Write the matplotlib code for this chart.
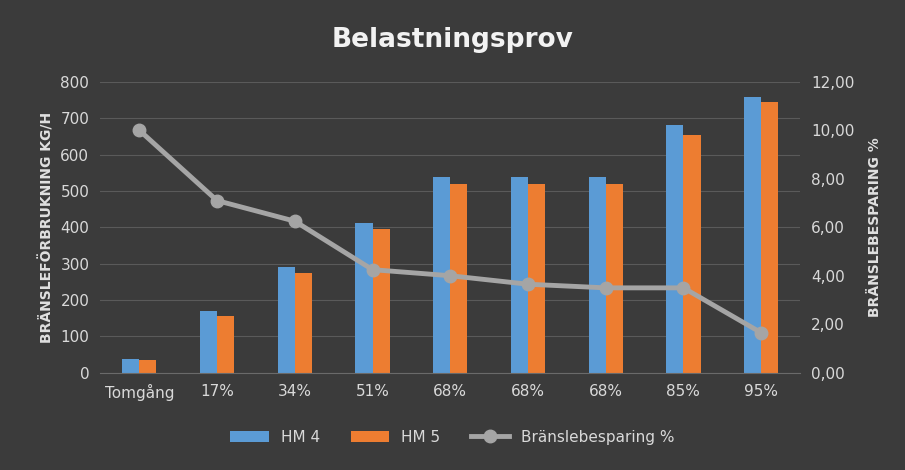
import matplotlib
matplotlib.use("Agg")
import matplotlib.pyplot as plt
import numpy as np

categories = ["Tomgång", "17%", "34%", "51%", "68%", "68%", "68%", "85%", "95%"]
hm4 = [38, 170, 290, 413, 537, 537, 537, 680, 757]
hm5 = [35, 157, 273, 395, 518, 518, 518, 655, 745]
besparing = [10.0, 7.1, 6.25, 4.25, 4.0, 3.65, 3.5, 3.5, 1.65]

fig = plt.figure(figsize=(9.05, 4.70), dpi=100)
fig.patch.set_facecolor("#3b3b3b")
ax = fig.add_axes([0.111, 0.207, 0.773, 0.619])
ax.set_facecolor("#3b3b3b")
x = np.arange(len(categories))
w = 0.22
ax.bar(x - w/2, hm4, w, color="#5b9bd5", label="HM 4", zorder=2)
ax.bar(x + w/2, hm5, w, color="#ed7d31", label="HM 5", zorder=2)
ax.set_ylim(0, 800)
ax.set_yticks(range(0, 801, 100))
ax.set_xlim(-0.5, len(categories) - 0.5)
ax.set_xticks(x)
ax.set_xticklabels(categories)
ax.grid(axis="y", color="#5a5a5a", linewidth=0.8, zorder=0)
for s in ax.spines.values():
    s.set_visible(False)
ax.spines["bottom"].set_visible(True)
ax.spines["bottom"].set_color("#6a6a6a")
ax.tick_params(colors="#d9d9d9", labelsize=11, length=0, pad=8)
ax.set_ylabel("BRÄNSLEFÖRBRUKNING KG/H", color="#e0e0e0", fontsize=10, fontweight="bold")

ax2 = ax.twinx()
ax2.plot(x, besparing, color="#a5a5a5", linewidth=3.5, marker="o", markersize=9, label="Bränslebesparing %", zorder=3)
ax2.set_ylim(0, 12)
ax2.set_yticks(np.arange(0, 12.1, 2))
ax2.set_yticklabels([f"{v:.2f}".replace(".", ",") for v in np.arange(0, 12.1, 2)])
for s in ax2.spines.values():
    s.set_visible(False)
ax2.tick_params(colors="#d9d9d9", labelsize=11, length=0, pad=8)
ax2.set_ylabel("BRÄNSLEBESPARING %", color="#e0e0e0", fontsize=10, fontweight="bold", labelpad=10)

fig.text(0.5, 0.915, "Belastningsprov", ha="center", va="center", color="#f2f2f2", fontsize=19, fontweight="bold")
h1, l1 = ax.get_legend_handles_labels()
h2, l2 = ax2.get_legend_handles_labels()
fig.legend(h1 + h2, l1 + l2, loc="center", bbox_to_anchor=(0.5, 0.07), ncol=3, frameon=False,
           labelcolor="#d9d9d9", fontsize=11, handlelength=2.5)
fig.savefig("out.png", dpi=100, facecolor=fig.get_facecolor())
